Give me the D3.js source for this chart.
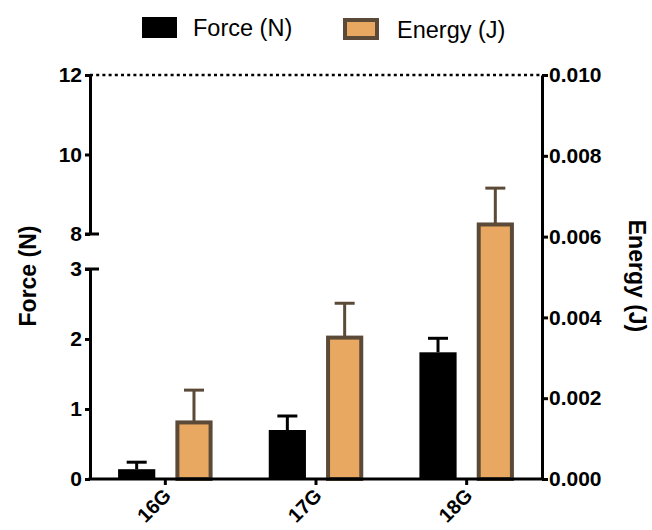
<!DOCTYPE html>
<html>
<head>
<meta charset="utf-8">
<script src="https://cdn.jsdelivr.net/npm/d3@7"></script>
<style>
  html, body { margin: 0; padding: 0; background: #fff; }
  svg text { font-family: Arial, "Liberation Sans", sans-serif; }
</style>
</head>
<body>
<svg id="chart" width="652" height="530"></svg>
<script>
// Needle gauges and their measured force / energy (mean and SD)
const categories = ["16G", "17G", "18G"];
const forceValues = [0.14, 0.70, 1.81];
const forceErrors = [0.10, 0.20, 0.20];
const energyValues = [0.0014, 0.0035, 0.0063];
const energyErrors = [0.0008, 0.00085, 0.0009];
const forceTicksLow = [0, 1, 2, 3];
const forceTicksHigh = [8, 10, 12];
const energyTicks = [0, 0.002, 0.004, 0.006, 0.008, 0.010];
const seriesNames = ["Force (N)", "Energy (J)"];

const svg = d3.select("#chart");
const plotLeft = 90, plotRight = 542, plotBottom = 479, plotTop = 75;

const ORANGE = "#e8a862", BROWN = "#5b4a37", AXIS_W = 3;

// Categories and the two series inside each group
const x = d3.scaleBand().domain(categories).range([plotLeft, plotRight]);
const xs = d3.scaleBand().domain(["force", "energy"])
  .range([0, x.bandwidth()]).paddingInner(0.351).paddingOuter(0.49);

// Broken left axis: lower segment 0–3, upper segment 8–12
const yLow = d3.scaleLinear().domain([0, 3]).range([plotBottom, 269]);
const yHigh = d3.scaleLinear().domain([8, 12]).range([234, plotTop]);
// Right axis for energy
const yR = d3.scaleLinear().domain([0, 0.010]).range([plotBottom, plotTop]);

function styleAxis(g) {
  g.selectAll("path.domain").attr("stroke-width", AXIS_W).attr("stroke", "#000");
  g.selectAll(".tick line").attr("stroke-width", AXIS_W).attr("stroke", "#000");
  g.selectAll(".tick text").attr("font-size", 21).attr("font-weight", "bold")
    .attr("fill", "#000").attr("font-family", "Arial, 'Liberation Sans', sans-serif");
}

// Dotted top border
svg.append("line")
  .attr("x1", plotLeft).attr("x2", plotRight)
  .attr("y1", yR(0.010)).attr("y2", yR(0.010))
  .attr("stroke", "#000").attr("stroke-width", 2.6)
  .attr("stroke-dasharray", "3,3.2");

// Force bars
const barsG = svg.append("g");
barsG.selectAll("rect.force").data(categories).join("rect")
  .attr("class", "force")
  .attr("x", (d) => x(d) + xs("force"))
  .attr("width", xs.bandwidth())
  .attr("y", (d, i) => yLow(forceValues[i]))
  .attr("height", (d, i) => yLow(0) - yLow(forceValues[i]))
  .attr("fill", "#000");

// Energy bars (outlined)
const sw = 4;
barsG.selectAll("rect.energy").data(categories).join("rect")
  .attr("class", "energy")
  .attr("x", (d) => x(d) + xs("energy") + sw / 2)
  .attr("width", xs.bandwidth() - sw)
  .attr("y", (d, i) => yR(energyValues[i]))
  .attr("height", (d, i) => yR(0) - yR(energyValues[i]))
  .attr("fill", ORANGE).attr("stroke", BROWN).attr("stroke-width", sw);

// Error bars (upper whisker only)
const capW = 20;
function whiskers(cls, key, vals, errs, scale, color) {
  const g = svg.append("g").attr("class", cls);
  categories.forEach((c, i) => {
    const cx = x(c) + xs(key) + xs.bandwidth() / 2;
    g.append("line").attr("x1", cx).attr("x2", cx)
      .attr("y1", scale(vals[i])).attr("y2", scale(vals[i] + errs[i]))
      .attr("stroke", color).attr("stroke-width", 3);
    g.append("line").attr("x1", cx - capW / 2).attr("x2", cx + capW / 2)
      .attr("y1", scale(vals[i] + errs[i])).attr("y2", scale(vals[i] + errs[i]))
      .attr("stroke", color).attr("stroke-width", 3);
  });
}
whiskers("force-err", "force", forceValues, forceErrors, yLow, "#000");
whiskers("energy-err", "energy", energyValues, energyErrors, yR, BROWN);

// Left axis, lower segment
const gLow = svg.append("g").attr("transform", `translate(${plotLeft},0)`)
  .call(d3.axisLeft(yLow).tickValues(forceTicksLow).tickFormat(d3.format("d"))
    .tickSizeInner(5).tickSizeOuter(0).tickPadding(3));
styleAxis(gLow);
// Left axis, upper segment
const gHigh = svg.append("g").attr("transform", `translate(${plotLeft},0)`)
  .call(d3.axisLeft(yHigh).tickValues(forceTicksHigh).tickFormat(d3.format("d"))
    .tickSizeInner(5).tickSizeOuter(0).tickPadding(3));
styleAxis(gHigh);
// Break marks at the ends of the two segments
[yLow(3), yHigh(8)].forEach((yy) => {
  svg.append("line").attr("x1", plotLeft - 5).attr("x2", plotLeft + 9)
    .attr("y1", yy).attr("y2", yy)
    .attr("stroke", "#000").attr("stroke-width", AXIS_W);
});

// Right axis
const gR = svg.append("g").attr("transform", `translate(${plotRight},0)`)
  .call(d3.axisRight(yR).tickValues(energyTicks).tickFormat(d3.format(".3f"))
    .tickSizeInner(6).tickSizeOuter(0).tickPadding(1));
styleAxis(gR);

// Bottom axis
const gX = svg.append("g").attr("transform", `translate(0,${plotBottom})`)
  .call(d3.axisBottom(x).tickSizeInner(6).tickSizeOuter(0).tickFormat(""));
styleAxis(gX);
gX.select("path.domain").attr("d", `M${plotLeft - 1.5},0H${plotRight + 1.5}`);

// Rotated category labels
svg.append("g").selectAll("text").data(categories).join("text")
  .attr("transform", (d) => `translate(${x(d) + x.bandwidth() / 2 + 7},497) rotate(-45)`)
  .attr("text-anchor", "end")
  .attr("font-size", 20).attr("font-weight", "bold")
  .text((d) => d);

// Axis titles
svg.append("text")
  .attr("transform", "translate(36,276) rotate(-90)")
  .attr("text-anchor", "middle")
  .attr("font-size", 23).attr("font-weight", "bold")
  .text(seriesNames[0]);
svg.append("text")
  .attr("transform", "translate(629,276) rotate(90)")
  .attr("text-anchor", "middle")
  .attr("font-size", 23).attr("font-weight", "bold")
  .text(seriesNames[1]);

// Legend
const legend = svg.append("g");
legend.append("rect").attr("x", 142).attr("y", 17).attr("width", 35).attr("height", 21).attr("fill", "#000");
legend.append("text").attr("x", 193).attr("y", 36).attr("font-size", 23.5).text(seriesNames[0]);
legend.append("rect").attr("x", 345).attr("y", 20).attr("width", 32).attr("height", 18)
  .attr("fill", ORANGE).attr("stroke", BROWN).attr("stroke-width", 4);
legend.append("text").attr("x", 397).attr("y", 38).attr("font-size", 23.5).text(seriesNames[1]);
</script>
</body>
</html>
